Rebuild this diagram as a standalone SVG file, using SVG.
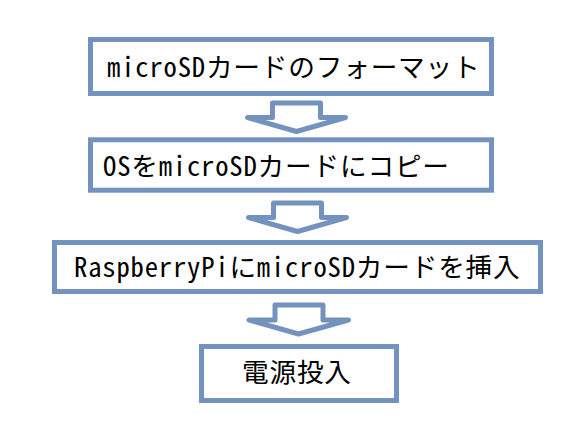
<svg xmlns="http://www.w3.org/2000/svg" width="581" height="429" viewBox="0 0 581 429">
<style>
.box{fill:#ffffff;stroke:#7393BE;stroke-width:5}
.arr{fill:#ffffff;stroke:#7393BE;stroke-width:5;stroke-linejoin:round}
.t{font-family:"Noto Sans CJK JP","Noto Sans CJK SC",sans-serif;font-size:26.67px;fill:#000000;letter-spacing:0.8px;font-feature-settings:"hwid" 1}
</style>
<rect width="581" height="429" fill="#ffffff"/>
<g id="connectors">
<path class="arr" d="M272.5,103 H320.5 V117.5 H345.5 L296.5,131.5 L247.5,117.5 H272.5 Z"/>
<path class="arr" d="M273.5,203 H321.5 V217.5 H346.5 L297.5,231.5 L248.5,217.5 H273.5 Z"/>
<path class="arr" d="M275,305 H323 V320 H348.5 L298.5,334 L249,320 H275 Z"/>
</g>
<g id="node1">
<rect class="box" x="90.5" y="39.5" width="401" height="54"/>
<text class="t" x="107" y="77">microSDカードのフォーマット</text>
</g>
<g id="node2">
<rect class="box" x="90.5" y="139.8" width="401" height="50.4"/>
<text class="t" x="103" y="176">OSをmicroSDカードにコピー</text>
</g>
<g id="node3">
<rect class="box" x="54.5" y="242.5" width="486" height="49"/>
<text class="t" x="74" y="277">RaspberryPiにmicroSDカードを挿入</text>
</g>
<g id="node4">
<rect class="box" x="201.5" y="346.5" width="195" height="54"/>
<text class="t" x="242" y="382">電源投入</text>
</g>
</svg>
